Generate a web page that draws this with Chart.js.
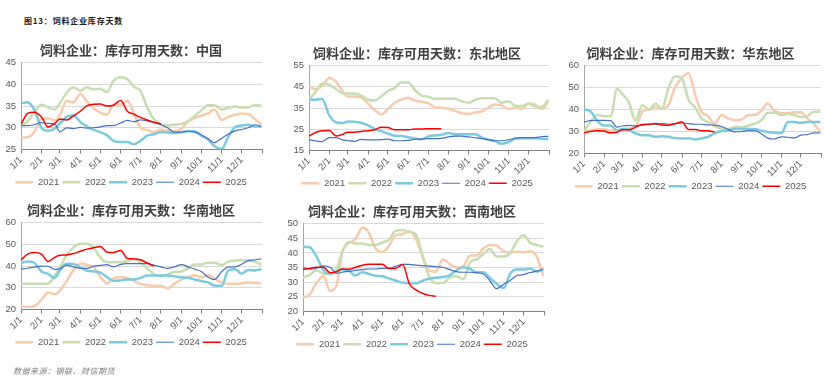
<!DOCTYPE html>
<html lang="zh">
<head>
<meta charset="UTF-8">
<title>饲料企业库存天数</title>
<script src="https://cdn.jsdelivr.net/npm/chart.js"></script>
<style>
    body {
        margin: 0;
        width: 831px;
        height: 390px;
        background: #fff;
        position: relative;
        overflow: hidden;
        font-family: "Noto Sans CJK SC", sans-serif;
    }
    canvas { position: absolute; }
    #head {
        position: absolute; left: 24px; top: 15px;
        font-size: 8px; font-weight: bold; letter-spacing: 0.8px; color: #222;
    }
    #foot {
        position: absolute; left: 13px; top: 365px;
        font-size: 8px; font-style: italic; letter-spacing: 0.5px; color: #808080;
    }
</style>
</head>
<body>
<div id="head">图13：饲料企业库存天数</div>
<canvas id="c1" width="272" height="161" style="left:0;top:36px"></canvas>
<canvas id="c2" width="274" height="159" style="left:285px;top:39px"></canvas>
<canvas id="c3" width="271" height="162" style="left:560px;top:39px"></canvas>
<canvas id="c4" width="272" height="161" style="left:0;top:196px"></canvas>
<canvas id="c5" width="274" height="162" style="left:280px;top:197px"></canvas>
<div id="foot">数据来源：钢联、财信期货</div>
<script>
    // 采样日(一年中的第几天)
    const days = [0,10,20,31,41,51,59,69,79,90,100,110,120,130,140,151,161,171,181,191,201,212,222,232,243,253,263,273,283,293,304,314,324,334,344,354,364];
    const monthDays = [0,31,59,90,120,151,181,212,243,273,304,334,365];
    const monthLabels = ['1/1','2/1','3/1','4/1','5/1','6/1','7/1','8/1','9/1','10/1','11/1','12/1',''];
    const years = ['2021','2022','2023','2024','2025'];
    const colors = ['#F8CBAD', '#C9DEB0', '#7DCAE0', '#4472C4', '#FF0000'];
    const widths = [2.5, 2.5, 2.5, 1.2, 1.5];

    // 中国
    const cn21 = [27.7,27.8,29,32,32.2,31.7,33,36.2,35.8,37.8,36,34.5,33.5,33,35.2,35.3,36.2,33.5,30,29.5,29,29.6,29.3,29.2,29.8,31.5,32.2,32.8,33.3,34.2,31.8,32.5,33,33.3,33.2,32,30.7];
    const cn22 = [30.5,31.5,33.5,35.3,34.7,34.2,35.7,38,39.3,38.5,39.3,38.8,39,38.2,40.8,41.6,41.2,39.5,38.5,34.7,32,30.7,30.5,30.7,30.9,31.5,32.7,34,35.2,35.2,34.2,34.6,34.9,34.6,34.7,35.2,35.1];
    const cn23 = [35.6,35.9,34.2,30,29.3,29.8,31,32.5,32.9,31.3,30.3,29.5,29,28.3,27,26.7,26.7,26.2,27,28.2,28.5,29,28.9,28.8,29,29.2,29.2,28.2,27.3,25.8,25.1,28,30.1,30.5,30.7,30.3,30.3];
    const cn24 = [30.5,30.5,30.7,31.2,31,30.9,29,30,29.8,30.1,29.9,30,30.2,30.5,30.5,31.1,31.7,31.4,31.8,31.6,31.2,30.7,30,29,29,29.2,29,28.4,27.5,26.6,27.6,28.5,29.3,29.6,30,30.7,30.3];
    const cn25 = [30.8,33.3,33.6,32.5,30.2,31,32,31.8,32.7,33.8,35.1,35.4,35.5,35,35.2,36.3,33.8,33.1,32.4,31.8,31.3,30.9];

    // 东北地区
    const ne21 = [44.9,43.8,45.5,49.2,47.5,43,40.5,40.5,40,37,34,32,34.5,37.5,39,39.8,38.5,38,37.3,35.5,35.2,34.7,33.7,32.6,32.2,33,33.5,35.2,36.7,36.2,34.5,35.2,34.6,37.3,36.5,34.5,38];
    const ne22 = [38.9,42.5,46.4,46,44,42,41.9,41.9,41,38.9,38.5,40.5,43,44.4,47,47,43.5,41,40.4,39.4,39.4,39.4,39.4,38.2,37.5,38.9,39.6,39.6,39.6,37.5,38.2,36,36,37,35.8,35.5,38.9];
    const ne23 = [38.9,38.9,39.3,31.5,28.3,27.9,28.7,28.5,28.1,26.8,25.2,24.1,23,22,21.8,21.2,20.7,20.3,21.6,22.1,22.4,23.2,22.6,22.6,22.6,22.6,21.1,20.1,19.4,18.2,19,20.6,20.8,20.7,20.8,20.4,20.4];
    const ne24 = [20.1,19.6,19.2,21.1,21.1,20,19.7,19.3,20.2,20,20,20.1,20.4,19.6,19.6,19.8,20.3,20.4,20.6,20.6,20.7,21.4,21.8,21.8,21.4,21,20.6,20.1,19.6,19.6,20.1,20.8,21.1,21.1,21.1,21.5,21.7];
    const ne25 = [21.8,23.5,24.3,24.4,21.8,22.6,23.6,23.6,24,24.3,24.8,25.9,25.8,24.8,24.8,24.8,25.1,25.1,25.3,25.3,25.3];

    // 华东地区
    const ea21 = [30,30.5,31,31,30.5,30.5,31,31.5,32,39,40,41,40.5,42,50,54.5,56.5,47,39,37,33.5,37.5,36,35,35.5,37.5,37.5,39.5,42.7,39.5,38.3,38.3,38.8,38.8,36,33.5,30];
    const ea22 = [30,34.5,37.5,37,37,49.5,47,43.4,35,42,40,42.6,40.4,49.7,55.2,54,44.5,41,36,34.3,32.5,31.5,31.1,31.9,31.9,32.6,33.6,35,38.6,38.6,37.5,38,37.5,36.5,37,39,39];
    const ea23 = [40,39.2,35,32.7,32.7,30.5,31.1,30.8,29.2,28.3,28.3,27.6,27.9,27.6,27,26.8,26.9,26.4,26.9,27.6,29.2,30.2,30.5,31.1,31.1,31.1,31.2,30.4,29.8,29.4,29.3,34.3,34.3,34,34.3,34.3,34.3];
    const ea24 = [34.3,35,35.1,35.1,35,32,32.5,32.8,32.6,32.9,33.3,33.3,33.6,33.3,33.5,34,33.6,33.3,33.3,33,32.9,32.3,31,29.8,30,30.4,30.4,29,27,26.6,27.6,27.4,27.1,28.4,28.6,29.4,29.4];
    const ea25 = [29.4,30,30.4,30.2,29.4,29.7,30.8,30.8,31.9,33.2,33.3,33.6,33,32.9,33.5,34.3,30.9,30.9,30.4,30.3,29.8];

    // 华南地区
    const so21 = [21.7,21.2,21.5,24.5,27.8,27,28.8,33,38,41.2,40.5,39.5,35,32,34.3,34.8,34.5,33.2,31.8,31.2,30.9,30.9,29.7,31.8,33.8,34.8,35.8,34.8,35.8,34.3,32.4,31.9,31.9,32,32.4,32.3,31.9];
    const so22 = [31.9,31.9,31.9,31.9,31.9,35.5,39.5,45,48.5,50.3,50.3,48.5,44,41.8,41.8,41.8,42.2,43.4,41.8,39,36.3,35.3,36,37.3,37.5,39,40.7,40.7,41.5,41.5,40.5,42,42.6,42.8,42.6,41.9,40.8];
    const so23 = [41.4,42.1,41.5,37.5,36.4,34.5,38,41.1,41,39.5,37.8,37.5,37,35,33.2,33.4,33.8,33.8,34.5,35.6,35.6,35.7,35.7,35.3,34.8,34.6,33.8,33.1,32.5,31,30.9,38,38.5,36.5,38.2,38,38.6];
    const so24 = [38.6,39,39.5,40,39.9,38.5,38.8,40.4,39.7,38.9,38.9,39.9,40.3,40.7,39.6,40.8,41.1,41.1,41.1,41.1,40.4,39.6,38.9,39.6,40.7,39.6,38.6,37.5,35,33.8,37.5,39.5,39.6,40.8,42.5,42.8,43.3];
    const so25 = [42.8,45.5,46.2,45.5,42.1,44,45,45.1,45.7,46.8,47.8,48.4,49,46.5,46.2,47.2,43.5,43.3,42.9,41.4,40];

    // 西南地区
    const sw21 = [24.7,25.8,29.6,32,27.1,29,40,43.3,44.5,48.7,46.8,41.5,40.3,42.3,46,46.4,47.5,44.8,39,34,33.6,37.8,36.3,35,35.5,39.1,39.1,41.5,42.7,42.5,40.5,40.1,40.5,40.2,40.6,38.8,32];
    const sw22 = [31.5,32.5,34,33,32.9,34.5,40,43.8,43.2,43.2,42.7,42.7,43.5,44.5,47.5,47.8,47.1,46.3,39,32,29.7,29.7,31.6,32,31,36.8,37.8,39.6,41.3,38.8,38.8,40,44,46,43.5,42.7,42.1];
    const sw23 = [42.1,41.9,39,34,32.9,33.5,34.3,34,32.3,33.4,32.8,32.2,32,31.3,30.6,29.8,29.7,29.6,30.5,31.2,31.5,31.8,32.3,34,35.1,34.5,33.4,33.4,31.5,29.5,28,33,34.3,34.3,34.7,33.6,34.3];
    const sw24 = [35.1,34.5,34.7,35.6,35.1,33,33.4,33.7,34,34.3,34.5,34.5,34.7,34.8,35.4,36.1,36.1,35.8,35.6,35.5,35.3,35.1,34.3,33.6,33.4,33.4,33.2,32.8,30.5,27.8,29.3,30.6,32.3,32.6,33.3,33.8,34.5];
    const sw25 = [34.3,34.7,35.1,35.1,33.2,33.6,34.5,34.4,35,35.8,36.1,36.1,36.1,34.7,34.7,36,29.5,27.4,26.2,25.5,25.2];

    const tickFont = { family: '"Liberation Sans", sans-serif', size: 9.5 };

    function makeChart(id, title, yMin, yMax, yStep, yWidth, series) {
        const datasets = series.map((vals, i) => ({
            label: years[i],
            data: vals.map((v, k) => ({ x: days[k], y: v })),
            borderColor: colors[i],
            backgroundColor: colors[i],
            borderWidth: widths[i],
            pointRadius: 0,
            tension: 0.25,
            cubicInterpolationMode: 'monotone',
            order: 5 - i,   // 2025 画在最上面
            fill: false
        }));

        new Chart(document.getElementById(id), {
            type: 'line',
            data: { datasets: datasets },
            options: {
                responsive: false,
                animation: false,
                layout: { padding: { left: 0, right: 10, top: 0, bottom: 0 } },
                plugins: {
                    title: {
                        display: true,
                        text: title,
                        color: '#404040',
                        font: { family: '"Noto Sans CJK SC", sans-serif', size: 13, weight: 'bold' },
                        padding: { top: 6, bottom: 5 }
                    },
                    legend: {
                        position: 'bottom',
                        labels: {
                            usePointStyle: true,
                            pointStyle: 'line',
                            pointStyleWidth: 18,
                            color: '#595959',
                            font: tickFont,
                            padding: 3,
                            sort: (a, b) => a.datasetIndex - b.datasetIndex
                        }
                    },
                    tooltip: { enabled: false }
                },
                scales: {
                    x: {
                        type: 'linear',
                        min: 0,
                        max: 365,
                        afterBuildTicks: axis => { axis.ticks = monthDays.map(v => ({ value: v })); },
                        afterFit: axis => { axis.height = 25; },
                        ticks: {
                            autoSkip: false,
                            minRotation: 45,
                            maxRotation: 45,
                            padding: 1,
                            color: '#595959',
                            font: tickFont,
                            callback: v => monthLabels[monthDays.indexOf(v)]
                        },
                        grid: { drawOnChartArea: false, drawTicks: true, tickLength: 4, color: '#808080' },
                        border: { display: true, color: '#808080' }
                    },
                    y: {
                        min: yMin,
                        max: yMax,
                        afterFit: axis => { axis.width = yWidth; },
                        ticks: { stepSize: yStep, color: '#595959', font: tickFont, padding: 5 },
                        grid: { color: '#d9d9d9', drawTicks: false },
                        border: { display: true, color: '#a6a6a6' }
                    }
                }
            }
        });
    }

    makeChart('c1', '饲料企业：库存可用天数：中国', 25, 45, 5, 21, [cn21, cn22, cn23, cn24, cn25]);
    makeChart('c2', '饲料企业：库存可用天数：东北地区', 15, 55, 10, 24, [ne21, ne22, ne23, ne24, ne25]);
    makeChart('c3', '饲料企业：库存可用天数：华东地区', 20, 60, 10, 24, [ea21, ea22, ea23, ea24, ea25]);
    makeChart('c4', '饲料企业：库存可用天数：华南地区', 20, 60, 10, 21, [so21, so22, so23, so24, so25]);
    makeChart('c5', '饲料企业：库存可用天数：西南地区', 20, 50, 5, 23, [sw21, sw22, sw23, sw24, sw25]);
</script>
</body>
</html>
